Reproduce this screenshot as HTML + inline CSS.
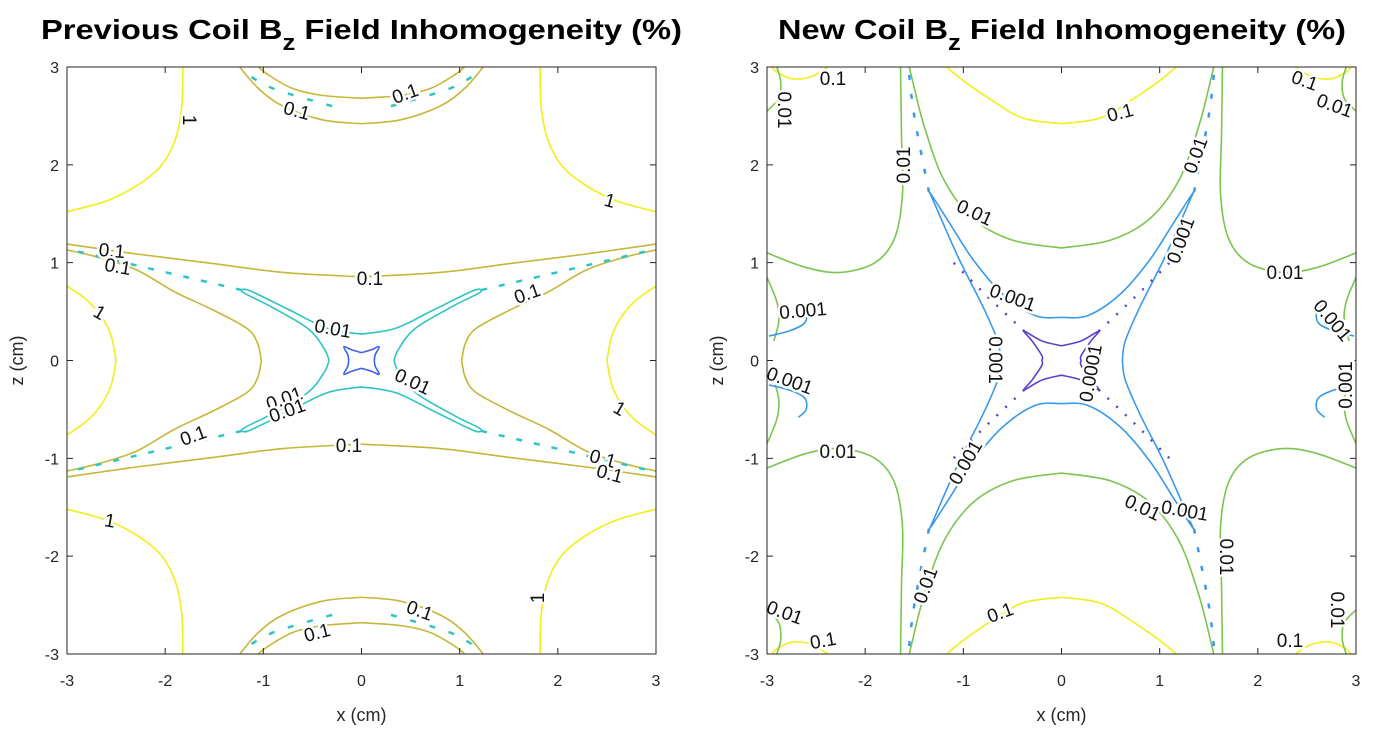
<!DOCTYPE html>
<html><head><meta charset="utf-8"><style>
html,body{margin:0;padding:0;background:#fff;}
svg{display:block;font-family:"Liberation Sans",Arial,sans-serif;}
</style></head><body>
<svg id="fig" width="1399" height="734" viewBox="0 0 1399 734">
<rect width="1399" height="734" fill="#fff"/>
<g id="left"></g>
<g id="right"></g>
</svg>
<script>
// ---- data (contour traces in cm, first quadrant; mirrored by symmetry) ----
const xTicks = [-3,-2,-1,0,1,2,3];
const zTicks = [-3,-2,-1,0,1,2,3];
const leftTitle = ["Previous Coil B","z"," Field Inhomogeneity (%)"];
const rightTitle = ["New Coil B","z"," Field Inhomogeneity (%)"];
const colors = {"1":"#f2ee1a","0.1":"#c4b83a","0.01":"#2ec4c4","0.001":"#3a9ae8","0.0001":"#5e3fc8","b":"#4060f0","g":"#7cc450"};

// left (previous coil) contours
const L_lvl1_corner = [[3,1.52],[2.6,1.63],[2.3,1.78],[2.05,1.98],[1.9,2.25],[1.83,2.6],[1.82,3]];
const L_lvl1_side = [[3,0.76],[2.8,0.62],[2.65,0.45],[2.55,0.25],[2.5,0]];
const L_lvl01_topOuter = [[0,2.42],[0.4,2.46],[0.8,2.6],[1.05,2.78],[1.24,3]];
const L_lvl01_topInner = [[0,2.68],[0.4,2.71],[0.7,2.78],[0.95,2.92],[1.05,3]];
const L_lvl01_band = [[0,0.855],[0.8,0.9],[1.5,0.99],[2.3,1.09],[3,1.19]];
const L_lvl01_hyper = [[1.02,0],[1.06,0.18],[1.17,0.33],[1.52,0.52],[1.9,0.7],[2.3,0.93],[2.7,1.06],[3,1.13]];
const L_lvl001_arm = [[0,0.27],[0.35,0.33],[0.74,0.52],[1.13,0.71],[1.22,0.72],[1.18,0.68],[0.94,0.56],[0.55,0.33],[0.38,0.12],[0.33,0]];
const L_dash001 = [[1.22,0.72],[2.2,0.95],[3,1.14]];
const L_dashTop = [[0.3,2.6],[0.9,2.78],[1.2,2.95]];
const L_star = [[0,0.08],[0.1,0.11],[0.18,0.14],[0.14,0.06],[0.13,0]];

// right (new coil) contours
const R_lvl01_top = [[0,2.42],[0.4,2.48],[0.74,2.68],[1.0,2.86],[1.17,3]];
const R_lvl01_corner = [[2.38,3],[2.55,2.9],[2.75,2.88],[2.9,2.95],[2.95,3]];
const R_lvl001_outer = [[1.64,3],[1.63,2.3],[1.62,1.7],[1.7,1.25],[1.9,1.0],[2.25,0.9],[2.6,0.95],[3,1.1]];
const R_lvl001_inner = [[0,1.15],[0.5,1.23],[0.9,1.45],[1.2,1.85],[1.4,2.4],[1.52,2.87],[1.55,3]];
const R_lvl001_side = [[3,0.85],[2.9,0.6],[2.88,0.4],[2.93,0.2]];
const R_lvl001_corner = [[3,2.55],[2.88,2.68],[2.86,2.85],[2.9,3]];
const R_lvl0001_arm = [[0,0.44],[0.27,0.46],[0.6,0.68],[0.9,1.03],[1.15,1.42],[1.33,1.7],[1.3,1.62],[1.05,1.05],[0.8,0.55],[0.65,0.2],[0.62,0]];
const R_lvl0001_side = [[2.98,0.25],[2.78,0.3],[2.62,0.38],[2.6,0.5],[2.68,0.58]];
const R_dash0001 = [[1.35,1.72],[1.5,2.5],[1.56,3]];
const R_lvl00001_star = [[0,0.15],[0.2,0.2],[0.38,0.3],[0.3,0.2],[0.2,0.05],[0.2,0]];
const R_dotPurple = [[0.38,0.3],[0.75,0.65],[1.1,1.0]];

// labels: [text, px, py, rotation]
const leftLabels = [["0.1",405,93,-20],["0.1",297,110,15],["1",190,120,90],["1",610,200,15],["0.1",112,250,5],["0.1",118,266,10],["0.1",370,278,0],["0.1",527,293,-20],["1",100,312,30],["0.01",333,328,10],["0.01",413,381,25],["0.01",284,398,-20],["0.01",287,410,-20],["1",620,408,30],["0.1",193,435,-20],["0.1",349,445,0],["0.1",603,458,15],["0.1",610,473,15],["1",110,520,10],["1",537,598,-90],["0.1",420,610,20],["0.1",317,632,-15]];
const rightLabels = [["0.1",833,78,0],["0.1",1120,112,-15],["0.01",785,110,90],["0.1",1305,80,20],["0.01",1335,105,20],["0.01",903,165,-90],["0.01",1195,155,-70],["0.01",975,212,25],["0.001",1180,240,-70],["0.01",1285,272,0],["0.001",1013,297,20],["0.001",803,310,-5],["0.001",1333,320,50],["0.001",996,360,90],["0.0001",1090,373,-80],["0.001",790,380,20],["0.001",1345,385,-90],["0.01",838,451,0],["0.001",965,462,-60],["0.01",1143,507,25],["0.001",1185,510,10],["0.01",925,585,-70],["0.01",1227,557,90],["0.01",785,612,20],["0.01",1338,610,90],["0.1",1000,612,-20],["0.1",823,640,-10],["0.1",1290,640,0]];

const NS = "http://www.w3.org/2000/svg";
function mk(tag, attrs, parent){const e=document.createElementNS(NS,tag);for(const k in attrs)e.setAttribute(k,attrs[k]);parent.appendChild(e);return e;}

function makeAxes(g, left, title, tx, tlen){
  const top=67, bottom=654, right=left+589;
  const X = x => left + (x+3)/6*(right-left);
  const Y = z => bottom - (z+3)/6*(bottom-top);
  const clip = mk("clipPath",{id:"clip"+left},g);
  mk("rect",{x:left,y:top,width:right-left,height:bottom-top},clip);
  const plot = mk("g",{"clip-path":"url(#clip"+left+")"},g);
  xTicks.forEach(t=>{
    const tk=mk("path",{d:`M${X(t)},${bottom}v-6M${X(t)},${top}v6`,stroke:"#262626","stroke-width":1},g);
    
    
    const tl=mk("text",{x:X(t),y:686,"text-anchor":"middle","font-size":16,fill:"#262626"},g);
    tl.textContent=t;
    
    
  });
  zTicks.forEach(t=>{
    const tk=mk("path",{d:`M${left},${Y(t)}h6M${right},${Y(t)}h-6`,stroke:"#262626","stroke-width":1},g);
    
    
    const tl=mk("text",{x:left-8,y:Y(t)+6,"text-anchor":"end","font-size":16,fill:"#262626"},g);
    tl.textContent=t;
    
    
  });
  const xl=mk("text",{x:(left+right)/2,y:721,"text-anchor":"middle","font-size":18,fill:"#262626"},g);
  xl.textContent="x (cm)";
  
  
  const yl=mk("text",{x:0,y:0,"text-anchor":"middle","font-size":18,fill:"#262626",transform:`translate(${left-44},${(top+bottom)/2}) rotate(-90)`},g);
  yl.textContent="z (cm)";
  
  
  const tt=mk("text",{x:tx,y:39,"font-size":28,"font-weight":"bold",fill:"#000",textLength:tlen,lengthAdjust:"spacingAndGlyphs"},g);
  const s1=mk("tspan",{},tt); s1.textContent=title[0];
  const s2=mk("tspan",{dy:11,"font-size":22},tt); s2.textContent=title[1];
  const s3=mk("tspan",{dy:-11},tt); s3.textContent=title[2];
  
  
  return {X,Y,plot,g,left,top,right,bottom};
}

function smoothPath(pts){
  if(pts.length<3) return "M"+pts.map(p=>p.join(",")).join("L");
  let d="M"+pts[0][0]+","+pts[0][1];
  for(let i=0;i<pts.length-1;i++){
    const p0=pts[i-1]||pts[i],p1=pts[i],p2=pts[i+1],p3=pts[i+2]||p2;
    const c1=[p1[0]+(p2[0]-p0[0])/6,p1[1]+(p2[1]-p0[1])/6];
    const c2=[p2[0]-(p3[0]-p1[0])/6,p2[1]-(p3[1]-p1[1])/6];
    d+=`C${c1[0]},${c1[1]} ${c2[0]},${c2[1]} ${p2[0]},${p2[1]}`;
  }
  return d;
}
function contour(ax, pts, color, name, dash, width){
  [[1,1],[-1,1],[1,-1],[-1,-1]].forEach(([sx,sz])=>{
    const p=pts.map(([x,z])=>[ax.X(sx*x),ax.Y(sz*z)]);
    const attrs={d:smoothPath(p),fill:"none",stroke:color,"stroke-width":width||1.6};
    if(dash) attrs["stroke-dasharray"]=dash;
    const e=mk("path",attrs,ax.plot);
    
    
  });
}
function labels(ax, list){
  list.forEach(([t,x,y,r])=>{
    const e=mk("text",{x:x,y:y+7,"text-anchor":"middle","font-size":19,fill:"#111",stroke:"#fff","stroke-width":5,"paint-order":"stroke",transform:`rotate(${r} ${x} ${y})`},ax.g);
    e.textContent=t;
    
    
  });
}
function box(ax){
  const b=mk("rect",{x:ax.left,y:ax.top,width:ax.right-ax.left,height:ax.bottom-ax.top,fill:"none",stroke:"#262626","stroke-width":1},ax.g);
  
  
}

// left plot
const A=makeAxes(document.getElementById("left"),67,leftTitle,41,641);
contour(A,L_lvl1_corner,colors["1"],"contour-1");
contour(A,L_lvl1_side,colors["1"],"contour-1");
contour(A,L_lvl01_topOuter,colors["0.1"],"contour-0.1");
contour(A,L_lvl01_topInner,colors["0.1"],"contour-0.1");
contour(A,L_lvl01_band,colors["0.1"],"contour-0.1");
contour(A,L_lvl01_hyper,colors["0.1"],"contour-0.1");
contour(A,L_lvl001_arm,colors["0.01"],"contour-0.01");
contour(A,L_dash001,colors["0.01"],"contour-0.01-fragments","6 12",2.5);
contour(A,L_dashTop,colors["0.01"],"contour-0.01-fragments","6 14",2.5);
contour(A,L_star,colors["b"],"contour-0.001");
labels(A,leftLabels);
box(A);

// right plot
const B=makeAxes(document.getElementById("right"),767,rightTitle,778,568);
contour(B,R_lvl01_top,colors["1"],"contour-0.1");
contour(B,R_lvl01_corner,colors["1"],"contour-0.1");
contour(B,R_lvl001_outer,colors["g"],"contour-0.01");
contour(B,R_lvl001_inner,colors["g"],"contour-0.01");
contour(B,R_lvl001_side,colors["g"],"contour-0.01");
contour(B,R_lvl001_corner,colors["g"],"contour-0.01");
contour(B,R_lvl0001_arm,colors["0.001"],"contour-0.001");
contour(B,R_lvl0001_side,colors["0.001"],"contour-0.001");
contour(B,R_dash0001,colors["0.001"],"contour-0.001-fragments","5 14",2.5);
contour(B,R_lvl00001_star,colors["0.0001"],"contour-0.0001");
contour(B,R_dotPurple,colors["0.0001"],"contour-0.0001-fragments","2 10",2.5);
labels(B,rightLabels);
box(B);
</script>
</body></html>
